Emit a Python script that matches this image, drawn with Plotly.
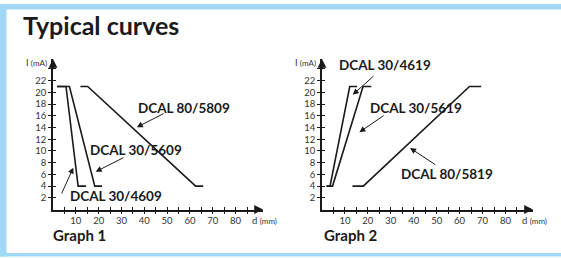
import plotly.graph_objects as go

# ---------------- data ----------------
# Graph 1 (current falls with distance)
g1_4609_d = [1.8, 5.7, 11.0, 14.5]
g1_4609_i = [21, 21, 4, 4]
g1_5609_d = [1.8, 7.2, 18.3, 21.5]
g1_5609_i = [21, 21, 4, 4]
g1_5809_d = [12.0, 15.2, 62.5, 65.8]
g1_5809_i = [21, 21, 4, 4]
# Graph 2 (current rises with distance)
g2_4619_d = [2.0, 3.5, 12.1, 15.3]
g2_4619_i = [4, 4, 21, 21]
g2_5619_d = [2.0, 4.6, 17.9, 21.5]
g2_5619_i = [4, 4, 21, 21]
g2_5819_d = [13.3, 18.0, 64.3, 69.4]
g2_5819_i = [4, 4, 21, 21]

x_ticks = [5, 10, 15, 20, 25, 30, 35, 40, 45, 50, 55, 60, 65, 70, 75, 80, 85]
x_ticktext = ["" if v % 10 else str(v) for v in x_ticks]
y_ticks = [2, 4, 6, 8, 10, 12, 14, 16, 18, 20, 22, 24]
y_ticktext = [str(v) if v <= 22 else "" for v in y_ticks]

X_MAX = 92
Y_MAX = 25.7

W, H = 561, 258
FONT = "Lato"
INK = "#1a1a1a"

fig = go.Figure()

def add_curve(d, i, xa, ya):
    fig.add_trace(go.Scatter(x=d, y=i, mode="lines", xaxis=xa, yaxis=ya,
                             line=dict(color=INK, width=1.6), hoverinfo="skip",
                             showlegend=False))

add_curve(g1_4609_d, g1_4609_i, "x", "y")
add_curve(g1_5609_d, g1_5609_i, "x", "y")
add_curve(g1_5809_d, g1_5809_i, "x", "y")
add_curve(g2_4619_d, g2_4619_i, "x2", "y2")
add_curve(g2_5619_d, g2_5619_i, "x2", "y2")
add_curve(g2_5819_d, g2_5819_i, "x2", "y2")

ydom = [(H - 209.5) / H, (H - 59) / H]
x1dom = [53 / W, 263 / W]
x2dom = [322 / W, 533 / W]

tickfont = dict(family=FONT, size=9.5, color="#333")

def xax(dom, anchor, overlay=None):
    d = dict(range=[0, X_MAX], tickvals=x_ticks, ticktext=x_ticktext,
             showgrid=False, zeroline=False, ticklen=3, tickwidth=1.2,
             tickcolor=INK, tickfont=tickfont, anchor=anchor, fixedrange=True)
    if overlay:
        d.update(overlaying=overlay, ticks="inside", showticklabels=False,
                 showline=False)
    else:
        d.update(domain=dom, ticks="outside", showline=True, linecolor=INK,
                 linewidth=1.8, ticklabelstandoff=-2)
    return d

def yax(anchor, overlay=None):
    d = dict(range=[0, Y_MAX], tickvals=y_ticks, ticktext=y_ticktext,
             showgrid=False, zeroline=False, ticklen=3, tickwidth=1.2,
             tickcolor=INK, tickfont=tickfont, anchor=anchor, fixedrange=True)
    if overlay:
        d.update(overlaying=overlay, ticks="inside", showticklabels=False,
                 showline=False)
    else:
        d.update(domain=ydom, ticks="outside", showline=True, linecolor=INK,
                 linewidth=1.8)
    return d

fig.update_layout(
    width=W, height=H, margin=dict(l=0, r=0, t=0, b=0),
    paper_bgcolor="white", plot_bgcolor="rgba(0,0,0,0)",
    xaxis=xax(x1dom, "y"), yaxis=yax("x"),
    xaxis2=xax(x2dom, "y2"), yaxis2=yax("x2"),
    xaxis3=xax(None, "y", overlay="x"), yaxis3=yax("x", overlay="y"),
    xaxis4=xax(None, "y2", overlay="x2"), yaxis4=yax("x2", overlay="y2"),
    showlegend=False,
)

# empty traces so overlay axes are drawn
fig.add_trace(go.Scatter(x=[None], y=[None], xaxis="x3", yaxis="y3", showlegend=False))
fig.add_trace(go.Scatter(x=[None], y=[None], xaxis="x4", yaxis="y4", showlegend=False))

ann = []
# axis arrowheads
for xr, yr in (("x", "y"), ("x2", "y2")):
    ann.append(dict(x=X_MAX, y=0, ax=X_MAX - 4, ay=0, xref=xr, yref=yr,
                    axref=xr, ayref=yr, showarrow=True, arrowhead=2,
                    arrowsize=1.1, arrowwidth=1.6, arrowcolor=INK, text=""))
    ann.append(dict(x=0, y=Y_MAX, ax=0, ay=Y_MAX - 2, xref=xr, yref=yr,
                    axref=xr, ayref=yr, showarrow=True, arrowhead=2,
                    arrowsize=1.1, arrowwidth=1.6, arrowcolor=INK, text=""))
    # axis titles
    ann.append(dict(x=0, y=Y_MAX - 0.6, xref=xr, yref=yr, xanchor="right",
                    yanchor="middle", xshift=-4, showarrow=False,
                    text="I <span style='font-size:8px'>(mA)</span>",
                    font=dict(family=FONT, size=9, color="#333")))
    ann.append(dict(x=X_MAX - 5.5, y=0, xref=xr, yref=yr, xanchor="left",
                    yanchor="top", yshift=-3, showarrow=False,
                    text="d <span style='font-size:8px'>(mm)</span>",
                    font=dict(family=FONT, size=9.5, color="#333")))

labfont = dict(family=FONT, size=13.5, color=INK, weight=900)

labels = [
    ("x", "y", "DCAL 80/5809", 57.4, 17.35, 36.7, 14.05, 49.1, 16.5),
    ("x", "y", "DCAL 30/5609", 36.4, 10.2, 18.7, 6.46, 31.5, 8.97),
    ("x", "y", "DCAL 30/4609", 27.8, 2.3, 8.9, 7.15, 3.5, 2.48),
    ("x2", "y2", "DCAL 30/4619", 27.5, 24.6, 13.4, 19.6, 23.1, 23.0),
    ("x2", "y2", "DCAL 30/5619", 40.8, 17.35, 16.3, 13.2, 27.5, 16.2),
    ("x2", "y2", "DCAL 80/5819", 54.4, 6.07, 38.4, 10.5, 50.0, 7.5),
]
for xr, yr, txt, tx, ty, hx, hy, sx, sy in labels:
    ann.append(dict(x=tx, y=ty, xref=xr, yref=yr, text=f"<b>{txt}</b>",
                    showarrow=False, font=labfont, xanchor="center",
                    yanchor="middle"))
    ann.append(dict(x=hx, y=hy, ax=sx, ay=sy, xref=xr, yref=yr, axref=xr,
                    ayref=yr, text="", showarrow=True, arrowhead=2,
                    arrowsize=1.2, arrowwidth=1.0, arrowcolor=INK))

# titles
ann.append(dict(x=21 / W, y=1 - 25 / H, xref="paper", yref="paper",
                xanchor="left", yanchor="middle", showarrow=False,
                text="<b>Typical curves</b>",
                font=dict(family=FONT, size=25, color=INK, weight=900)))
for px, t in ((52 / W, "Graph 1"), (323 / W, "Graph 2")):
    ann.append(dict(x=px, y=1 - 234.5 / H, xref="paper", yref="paper",
                    xanchor="left", yanchor="middle", showarrow=False,
                    text=f"<b>{t}</b>", borderpad=0,
                    font=dict(family=FONT, size=15, color=INK, weight=900)))

fig.update_layout(annotations=ann)

# light-blue frame
BLUE = "#a0d9f5"
def prect(x0, y0, x1, y1):
    return dict(type="rect", xref="paper", yref="paper", x0=x0 / W, x1=x1 / W,
                y0=1 - y1 / H, y1=1 - y0 / H, fillcolor=BLUE, line_width=0,
                layer="below")
fig.update_layout(shapes=[prect(0, 4, W, 9.5), prect(0, 4, 6.5, 256.5),
                          prect(0, 253, W, 256.5)])

fig.write_html("out.html", config={"displayModeBar": False},
               post_script="document.body.style.margin='0';"
                           "document.body.style.overflow='hidden';")
